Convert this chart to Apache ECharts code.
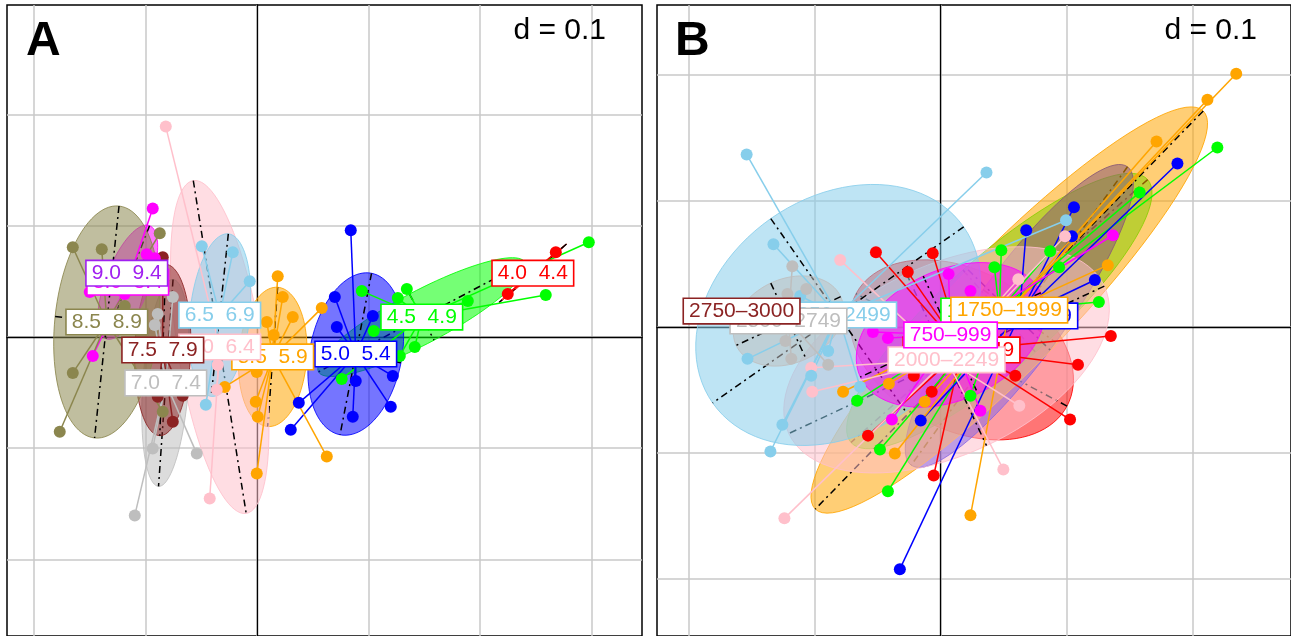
<!DOCTYPE html>
<html>
<head>
<meta charset="utf-8">
<script src="https://cdn.jsdelivr.net/npm/echarts@6/dist/echarts.min.js"></script>
<style>
html,body{margin:0;padding:0;background:#fff;}
#main{width:1291px;height:636px;}
</style>
</head>
<body>
<div id="main"></div>
<script>
/*------------- data : panel A -------------*/
var namesA = ['4.0  4.4','4.5  4.9','5.0  5.4','5.5  5.9','6.0  6.4','6.5  6.9','7.0  7.4','7.5  7.9','8.0  8.4','8.5  8.9','9.0  9.4'];
var centroidsA = [[0.2476,0.0574],[0.1480,0.0179],[0.0888,-0.0153],[0.0143,-0.0179],[-0.0332,-0.0090],[-0.0332,0.0197],
	[-0.0816,-0.0413],[-0.0843,-0.0117],[-0.1157,0.0493],[-0.1345,0.0135],[-0.1166,0.0574]];
// ellipse: semi-major, semi-minor, angle (deg)
var ellipsesA = [[0.040,0.001,41],[0.1049,0.0235,28],[0.0740,0.0413,79],[0.0628,0.0305,86],[0.1516,0.0377,99],[0.0735,0.0269,84],
	[0.0933,0.0206,86],[0.0771,0.0251,88],[0.0545,0.0197,69],[0.1049,0.0466,84],[0,0,0]];
var pointsA = [
	[[0.2682,0.0762],[0.2251,0.0386]],
	[[0.2978,0.0852],[0.2592,0.0377],[0.1893,0.0323],[0.0942,0.0413],[0.1346,0.0431],[0.1265,0.0350],[0.1417,-0.0090],[0.0762,-0.0377],[0.1283,-0.0170],[0.1049,0.0054]],
	[[0.0843,0.0960],[0.0700,0.0359],[0.0718,0.0090],[0.1041,0.0188],[0.0888,-0.0395],[0.1220,-0.0350],[0.1202,-0.0628],[0.0861,-0.0718],[0.0377,-0.0592],[0.0305,-0.0834]],
	[[0.0188,0.0547],[0.0233,0.0359],[0.0323,0.0179],[0.0583,0.0260],[0.0090,0.0135],[0.0152,0.0018],[0.0000,-0.0314],[-0.0009,-0.0583],[0.0009,-0.0718],[-0.0287,-0.0449],[0.0628,-0.1076],[0.0000,-0.1229]],
	[[-0.0816,0.1893],[-0.0350,-0.0251],[-0.0359,-0.0475],[-0.0422,-0.1453]],
	[[-0.0493,0.0816],[-0.0215,0.0762],[-0.0063,0.0502],[-0.0457,-0.0610]],
	[[-0.1094,-0.1605],[-0.0538,-0.1049],[-0.0933,-0.1004],[-0.0888,0.0206],[-0.0753,0.0359],[-0.0915,0.0108]],
	[[-0.0843,0.0717],[-0.0888,-0.0538],[-0.0664,-0.0529],[-0.0753,-0.0762]],
	[[-0.0933,0.1157],[-0.0987,0.0744],[-0.0915,0.0709],[-0.1498,0.0404],[-0.1184,0.0386],[-0.1471,-0.0170]],
	[[-0.1650,0.0807],[-0.1390,0.0789],[-0.0870,0.0933],[-0.1184,0.0278],[-0.1650,-0.0323],[-0.1767,-0.0852],[-0.0843,-0.0673]],
	[[-0.1166,0.0574]]
];
var gridXA = [-0.2,-0.1,0,0.1,0.2,0.3];
var gridYA = [-0.2,-0.1,0,0.1,0.2];

/*------------- data : panel B -------------*/
var namesB = ['1000–1249','1250–1499','1500–1749','1750–1999','2000–2249','2250–2499','2500–2749','2750–3000','750–999'];
var centroidsB = [[0.0166,-0.0182],[0.0466,0.0126],[0.0625,0.0087],[0.0545,0.0134],[0.0047,-0.0261],[-0.0814,0.0095],
	[-0.1209,0.0047],[-0.1581,0.0126],[0.0079,-0.0063]];
var ellipsesB = [[0.0949,0.0632,-28],[0.1573,0.0435,41.5],[0.1462,0.0356,54],[0.2206,0.0458,45.7],[0.1383,0.0751,25],[0.1217,0.0933,35],
	[0.0458,0.0332,25],[0,0,0],[0.0791,0.0514,25]];
var pointsB = [
	[[-0.0514,0.0593],[-0.0063,0.0585],[-0.0261,0.0435],[-0.0213,-0.0387],[-0.0071,-0.0514],[0.0593,-0.0387],[0.1091,-0.0300],[0.1352,-0.0071],[0.1028,-0.0735],[-0.0577,-0.0862],[-0.0055,-0.1178]],
	[[0.2198,0.1423],[0.1581,0.1067],[0.0482,0.0609],[0.0427,0.0474],[0.0870,0.0601],[0.0941,0.0474],[0.1257,0.0198],[0.0237,-0.0545],[-0.0664,-0.0585],[-0.0482,-0.0972],[-0.0419,-0.1304]],
	[[0.1881,0.1296],[0.1059,0.0949],[0.0680,0.0767],[0.1043,0.0719],[0.1225,0.0372],[-0.0158,-0.0743],[-0.0324,-0.1921]],
	[[0.2348,0.2008],[0.2119,0.1802],[0.1715,0.1470],[0.1328,0.0490],[-0.0775,-0.0514],[-0.0411,-0.0451],[-0.0126,-0.0593],[-0.0364,-0.1004],[0.0237,-0.1494]],
	[[-0.0798,0.0530],[-0.1028,-0.0324],[-0.1020,-0.0514],[-0.1241,-0.1518],[0.0617,0.0379],[0.0988,0.0719],[0.0625,-0.0625],[0.0498,-0.1130]],
	[[-0.1541,0.1368],[-0.1328,0.0656],[-0.1115,0.0245],[0.0364,0.1225],[0.0996,0.0846],[-0.1534,-0.0253],[-0.0893,-0.0190],[-0.1028,-0.0387],[-0.1257,-0.0775],[-0.1352,-0.0988],[-0.0640,-0.0474]],
	[[-0.1178,0.0482],[-0.1067,0.0300],[-0.1217,0.0261],[-0.1233,-0.0111],[-0.1186,-0.0253],[-0.0893,-0.0300]],
	[[-0.1581,0.0126]],
	[[0.0063,0.0419],[0.0237,0.0285],[-0.0538,-0.0040],[-0.0419,-0.0087],[0.0316,-0.0664],[-0.0387,-0.0735],[0.1368,0.0727]]
];
var gridXB = [-0.2,-0.1,0,0.1,0.2];
var gridYB = [-0.2,-0.1,0,0.1,0.2];

/*------------- colours -------------*/
var colorsA = ['#ff0000','#00ff00','#0000ff','#ffa500','#ffc0cb','#87ceeb','#bebebe','#8b2323','#ff00ff','#8b864e','#a020f0'];
var colorsB = ['#ff0000','#00ff00','#0000ff','#ffa500','#ffc0cb','#87ceeb','#bebebe','#8b2323','#ff00ff'];

var FONT = '"Liberation Sans", Arial, Helvetica, sans-serif';

function rgba(hex, a){
	var n = parseInt(hex.slice(1),16);
	return 'rgba('+((n>>16)&255)+','+((n>>8)&255)+','+(n&255)+','+a+')';
}

function axisPair(gi, xmin, xmax, ymin, ymax, gx, gy){
	var split = {show:true, lineStyle:{color:'#c8c8c8', width:1.5}};
	return {
		x:{gridIndex:gi, type:'value', min:xmin, max:xmax,
			axisLine:{show:true, onZero:true, lineStyle:{color:'#000', width:1.3}},
			axisTick:{show:false, customValues:gx}, axisLabel:{show:false, customValues:gx}, splitLine:split},
		y:{gridIndex:gi, type:'value', min:ymin, max:ymax,
			axisLine:{show:true, onZero:true, lineStyle:{color:'#000', width:1.3}},
			axisTick:{show:false, customValues:gy}, axisLabel:{show:false, customValues:gy}, splitLine:split}
	};
}

function classSeries(gi, names, cents, ells, pts, colors){
	var ellData = cents.map(function(c,i){return [c[0],c[1],ells[i][0],ells[i][1],ells[i][2],i];});
	var starData = [], ptData = [];
	pts.forEach(function(list,i){
		list.forEach(function(p){
			starData.push([p[0],p[1],cents[i][0],cents[i][1],i]);
			ptData.push([p[0],p[1],i]);
		});
	});
	var labData = cents.map(function(c,i){return [c[0],c[1],i];});
	return [{
		type:'custom', xAxisIndex:gi, yAxisIndex:gi, z:3, silent:true,
		data:ellData,
		renderItem:function(params, api){
			var cx=api.value(0), cy=api.value(1), a=api.value(2), b=api.value(3);
			var th=api.value(4)*Math.PI/180, col=colors[api.value(5)];
			if(a<=0) return null;
			var c=Math.cos(th), s=Math.sin(th), poly=[];
			for(var k=0;k<96;k++){
				var t=2*Math.PI*k/96, u=a*Math.cos(t), v=b*Math.sin(t);
				poly.push(api.coord([cx+u*c-v*s, cy+u*s+v*c]));
			}
			var m1=api.coord([cx+a*c, cy+a*s]), m2=api.coord([cx-a*c, cy-a*s]);
			var n1=api.coord([cx-b*s, cy+b*c]), n2=api.coord([cx+b*s, cy-b*c]);
			var dash={stroke:'#000', lineWidth:1.5, lineDash:[7,4,2,4], fill:null};
			return {type:'group', children:[
				{type:'polygon', shape:{points:poly}, style:{fill:rgba(col,0.54), stroke:rgba(col,0.85), lineWidth:1}},
				{type:'line', shape:{x1:m1[0],y1:m1[1],x2:m2[0],y2:m2[1]}, style:dash},
				{type:'line', shape:{x1:n1[0],y1:n1[1],x2:n2[0],y2:n2[1]}, style:dash}
			]};
		}
	},{
		type:'custom', xAxisIndex:gi, yAxisIndex:gi, z:4, silent:true,
		data:starData,
		renderItem:function(params, api){
			var p=api.coord([api.value(0),api.value(1)]), q=api.coord([api.value(2),api.value(3)]);
			return {type:'line', shape:{x1:q[0],y1:q[1],x2:p[0],y2:p[1]},
				style:{stroke:colors[api.value(4)], lineWidth:1.5}};
		}
	},{
		type:'scatter', xAxisIndex:gi, yAxisIndex:gi, z:5, silent:true,
		symbolSize:12, data:ptData,
		itemStyle:{opacity:1, color:function(p){return colors[p.value[2]];}}
	},{
		type:'custom', xAxisIndex:gi, yAxisIndex:gi, z:6, silent:true,
		data:labData,
		renderItem:function(params, api){
			var p=api.coord([api.value(0),api.value(1)]), col=colors[api.value(2)];
			return {type:'text', x:p[0], y:p[1], style:{
				text:names[api.value(2)], fill:col, font:'21px '+FONT,
				align:'center', verticalAlign:'middle',
				backgroundColor:'#fff', borderColor:col, borderWidth:1.6, padding:[2,5,1,5]
			}};
		}
	}];
}

var axA = axisPair(0, -0.224, 0.3455, -0.2690, 0.2987, gridXA, gridYA);
var axB = axisPair(1, -0.2253, 0.2783, -0.2451, 0.2553, gridXB, gridYB);

var chart = echarts.init(document.getElementById('main'));
chart.setOption({
	animation:false,
	backgroundColor:'#fff',
	grid:[
		{left:7, top:5, width:635, height:633, show:true, borderColor:'#000', borderWidth:1.5, backgroundColor:'transparent'},
		{left:657, top:5, width:637, height:633, show:true, borderColor:'#000', borderWidth:1.5, backgroundColor:'transparent'}
	],
	xAxis:[axA.x, axB.x],
	yAxis:[axA.y, axB.y],
	graphic:[
		{type:'text', x:26, y:42, z:100, style:{text:'A', font:'bold 48px '+FONT, fill:'#000', verticalAlign:'middle'}},
		{type:'text', x:675, y:42, z:100, style:{text:'B', font:'bold 48px '+FONT, fill:'#000', verticalAlign:'middle'}},
		{type:'text', x:606, y:31, z:100, style:{text:'d = 0.1', font:'30px '+FONT, fill:'#000', align:'right', verticalAlign:'middle'}},
		{type:'text', x:1257, y:31, z:100, style:{text:'d = 0.1', font:'30px '+FONT, fill:'#000', align:'right', verticalAlign:'middle'}}
	],
	series:[].concat(
		classSeries(0, namesA, centroidsA, ellipsesA, pointsA, colorsA),
		classSeries(1, namesB, centroidsB, ellipsesB, pointsB, colorsB)
	)
});
</script>
</body>
</html>
